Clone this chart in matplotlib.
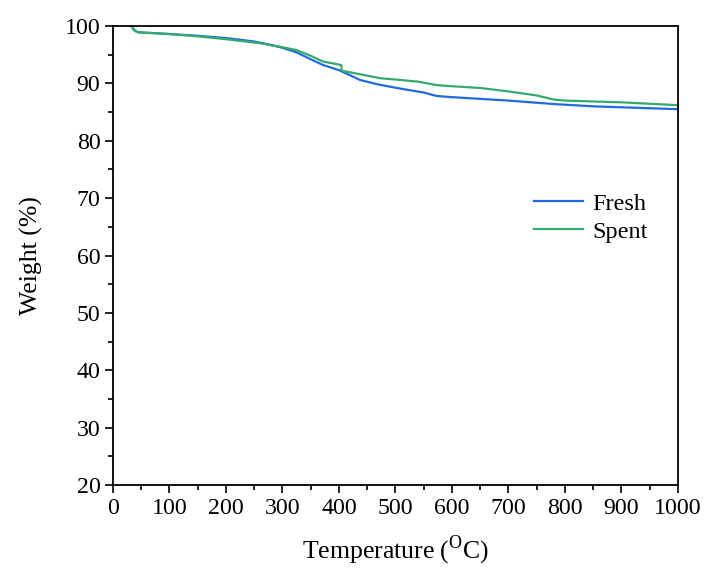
import matplotlib
matplotlib.use("Agg")
import matplotlib.pyplot as plt
from matplotlib.ticker import MultipleLocator

plt.rcParams['font.family'] = ['Liberation Serif', 'DejaVu Serif']
plt.rcParams['mathtext.fontset'] = 'custom'
plt.rcParams['mathtext.rm'] = 'Liberation Serif'

fresh_t = [33, 36, 40, 45, 100, 150, 200, 250, 280, 300, 325, 350, 372, 400, 420, 437, 470, 508, 550, 573, 600, 700, 780, 850, 1000]
fresh_w = [100, 99.5, 99.1, 98.9, 98.6, 98.3, 97.9, 97.3, 96.7, 96.2, 95.4, 94.2, 93.2, 92.3, 91.4, 90.6, 89.8, 89.1, 88.4, 87.8, 87.6, 87.0, 86.4, 86.0, 85.5]

spent_t = [33, 36, 40, 45, 100, 150, 200, 260, 300, 325, 350, 372, 404, 405, 437, 473, 508, 540, 573, 600, 650, 700, 750, 779, 800, 900, 1000]
spent_w = [100, 99.4, 99.1, 98.9, 98.6, 98.2, 97.7, 97.0, 96.3, 95.8, 94.8, 93.8, 93.2, 92.2, 91.6, 90.9, 90.6, 90.3, 89.7, 89.5, 89.2, 88.6, 87.9, 87.2, 87.0, 86.7, 86.2]

fig = plt.figure(figsize=(7.08, 5.74), dpi=100)
ax = fig.add_axes([0.1596, 0.155, 0.798, 0.7997])
ax.plot(fresh_t, fresh_w, color='#1f6ae0', lw=1.6, label='Fresh')
ax.plot(spent_t, spent_w, color='#34ab6a', lw=1.6, label='Spent')

ax.set_xlim(0, 1000)
ax.set_ylim(20, 100)
ax.xaxis.set_major_locator(MultipleLocator(100))
ax.xaxis.set_minor_locator(MultipleLocator(50))
ax.yaxis.set_major_locator(MultipleLocator(10))
ax.yaxis.set_minor_locator(MultipleLocator(5))
ax.tick_params(which='both', direction='out', top=False, right=False, labelsize=17.2, width=1.2)
ax.tick_params(which='major', length=6, pad=3)
ax.tick_params(which='minor', length=3.5)
for s in ax.spines.values():
    s.set_linewidth(1.3)

ax.set_xlabel('Temperature ($^{\\mathrm{O}}$C)', fontsize=18.5, labelpad=11)
ax.set_ylabel('Weight (%)', fontsize=18.5, labelpad=16)

ax.legend(loc='center left', bbox_to_anchor=(0.707, 0.582), frameon=False, fontsize=17.5,
          handlelength=2.0, handletextpad=0.4, labelspacing=0.25)

fig.savefig('out.png', dpi=100)
